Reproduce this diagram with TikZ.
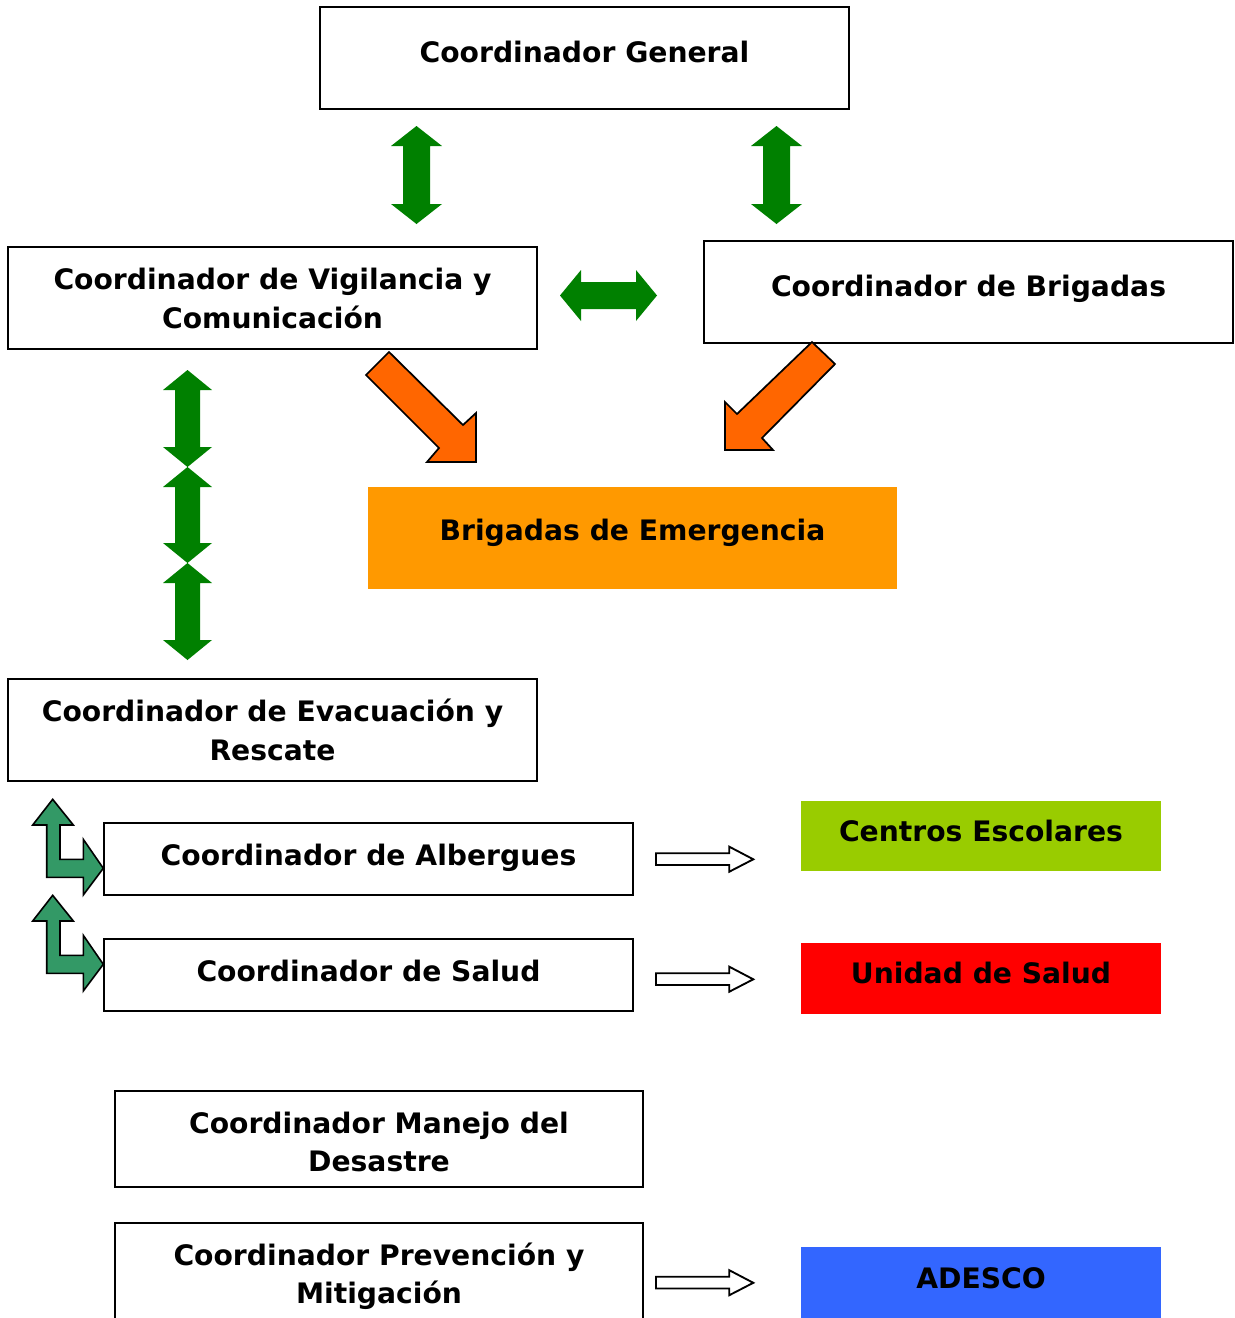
\documentclass[tikz,border=0pt]{standalone}
\usepackage{fontspec}
\setmainfont{DejaVu Sans}
\usetikzlibrary{fit}
\definecolor{gArrow}{HTML}{008000}
\definecolor{gBent}{HTML}{339966}
\definecolor{oArrow}{HTML}{FF6600}
\definecolor{oBox}{HTML}{FF9900}
\definecolor{cEsc}{HTML}{99CC00}
\definecolor{cSal}{HTML}{FF0000}
\definecolor{cAde}{HTML}{3366FF}
\newcommand{\VDArrow}[6]{% cx, ytop, ybot, headhalf, shafthalf, headlen
  \fill[gArrow] (#1,#2) -- (#1+#4,#2+#6) -- (#1+#5,#2+#6) -- (#1+#5,#3-#6) -- (#1+#4,#3-#6)
   -- (#1,#3) -- (#1-#4,#3-#6) -- (#1-#5,#3-#6) -- (#1-#5,#2+#6) -- (#1-#4,#2+#6) -- cycle;}
\newcommand{\BentArrow}[1]{% y offset
  \filldraw[fill=gBent, draw=black, line width=1.2pt, line join=miter]
   (52.7,799.3+#1) -- (73.3,825+#1) -- (60,825+#1) -- (60,859.3+#1) -- (83.3,859.3+#1)
   -- (83.3,839.3+#1) -- (103.3,868.3+#1) -- (83.3,895+#1) -- (83.3,877.3+#1)
   -- (46.7,877.3+#1) -- (46.7,825+#1) -- (32.7,825+#1) -- cycle;}
\newcommand{\HollowArrow}[1]{% y offset
  \filldraw[fill=white, draw=black, line width=1.4pt]
   (656,853.3+#1) -- (729.3,853.3+#1) -- (729.3,846.7+#1) -- (753.3,859.3+#1)
   -- (729.3,871.7+#1) -- (729.3,865+#1) -- (656,865+#1) -- cycle;}
\tikzset{
  boxw/.style={draw=black, line width=1.3pt, inner sep=0pt, fill=white},
  boxc/.style={inner sep=0pt, draw=none},
  lbl/.style={anchor=base, inner sep=0pt, font=\fontsize{21.15}{29.25}\selectfont\bfseries},
  orarrow/.style={fill=oArrow, draw=black, line width=1.3pt, line join=miter},
}
\begin{document}
\begin{tikzpicture}[x=0.75pt, y=-0.75pt]
\useasboundingbox (0,0) rectangle (1235,1318);
\clip (0,0) rectangle (1235,1318);
\fill[white] (0,0) rectangle (1235,1318);

% boxes
\node[boxw, fit={(320,7) (849,109)}] (gen) {};
\node[boxw, fit={(8,247) (537,349)}] (vig) {};
\node[boxw, fit={(704,241) (1233,343)}] (bri) {};
\node[boxc, fill=oBox, fit={(368,487) (897,589)}] (eme) {};
\node[boxw, fit={(8,679) (537,781)}] (eva) {};
\node[boxw, fit={(104,823) (633,895)}] (alb) {};
\node[boxw, fit={(104,939) (633,1011)}] (sal) {};
\node[boxc, fill=cEsc, fit={(801,801) (1161,871)}] (esc) {};
\node[boxc, fill=cSal, fit={(801,943) (1161,1014)}] (uni) {};
\node[boxw, fit={(115,1091) (643,1187)}] (man) {};
\node[boxw, fit={(115,1223) (643,1340)}] (pre) {};
\node[boxc, fill=cAde, fit={(801,1247) (1161,1340)}] (ade) {};

% labels
\node[lbl] (genT) at (584.5,62) {Coordinador General};
\node[lbl] (vigT1) at (272.5,289) {Coordinador de Vigilancia y};
\node[lbl] (vigT2) at (272.5,328) {Comunicación};
\node[lbl] (briT) at (968.5,296) {Coordinador de Brigadas};
\node[lbl] (emeT) at (632.5,540) {Brigadas de Emergencia};
\node[lbl] (evaT1) at (272.5,721) {Coordinador de Evacuación y};
\node[lbl] (evaT2) at (272.5,760) {Rescate};
\node[lbl] (albT) at (368.5,865) {Coordinador de Albergues};
\node[lbl] (salT) at (368.5,981) {Coordinador de Salud};
\node[lbl] (escT) at (981,841) {Centros Escolares};
\node[lbl] (uniT) at (981,983) {Unidad de Salud};
\node[lbl] (manT1) at (379,1133) {Coordinador Manejo del};
\node[lbl] (manT2) at (379,1171) {Desastre};
\node[lbl] (preT1) at (379,1265) {Coordinador Prevención y};
\node[lbl] (preT2) at (379,1303) {Mitigación};
\node[lbl] (adeT) at (981,1288) {ADESCO};

% green double arrows
\VDArrow{416.5}{126}{224}{25.5}{13.5}{20}
\VDArrow{776.5}{126}{224}{25.5}{13.5}{20}
\VDArrow{187.5}{370}{467}{24.5}{12.5}{20}
\VDArrow{187.5}{467}{563}{24.5}{12.5}{20}
\VDArrow{187.5}{563}{660}{24.5}{12.5}{20}
\fill[gArrow] (560,295.5) -- (581,270) -- (581,282) -- (636,282) -- (636,270) -- (657,295.5)
  -- (636,321) -- (636,309) -- (581,309) -- (581,321) -- cycle;

% orange arrows
\filldraw[orarrow]
  (389,352) -- (463,425) -- (476,413) -- (476,462) -- (427,462) -- (439,448) -- (366,375) -- cycle;
\filldraw[orarrow]
  (812,342) -- (835,364) -- (762,438) -- (773,450) -- (725,450) -- (725,402) -- (737,414) -- cycle;

% bent arrows
\BentArrow{0}
\BentArrow{96}

% hollow arrows
\HollowArrow{0}
\HollowArrow{120}
\HollowArrow{423.5}
\end{tikzpicture}
\end{document}
